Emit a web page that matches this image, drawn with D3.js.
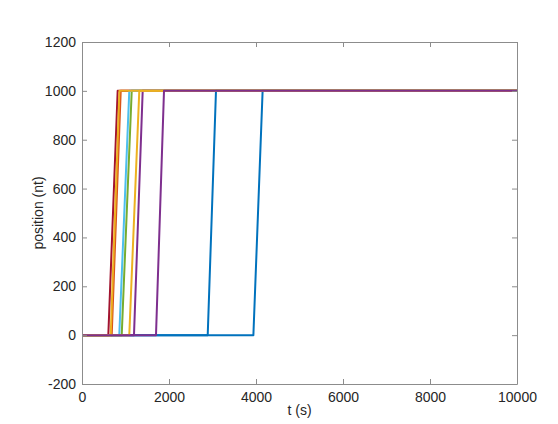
<!DOCTYPE html>
<html>
<head>
<meta charset="utf-8">
<script src="https://cdn.jsdelivr.net/npm/d3@7"></script>
<style>
  body { margin: 0; background: #fff; }
  text { font-family: "Liberation Sans", Helvetica, Arial, sans-serif; }
</style>
</head>
<body>
<svg id="chart"></svg>
<script>
var viewWidth = 558;
var viewHeight = 424;

// ramp start / end times (s); drawn in this order
var startTimes = [3940, 2890, 683, 605, 913, 857, 1195, 1087, 660, 1701];
var endTimes   = [4152, 3080, 890, 820, 1143, 1087, 1395, 1317, 860, 1885];
var lineColors = ["#0072BD", "#0072BD", "#D95319", "#A2142F", "#77AC30", "#4DBEEE", "#7E2F8E", "#EDB120", "#EDB120", "#7E2F8E"];
var lowValue = 0;
var highValue = 1000;
var tEnd = 10000;

var xTicks = [0, 2000, 4000, 6000, 8000, 10000];
var yTicks = [-200, 0, 200, 400, 600, 800, 1000, 1200];

var margin = {top: 42, right: 41, bottom: 40, left: 82};
var width = viewWidth - margin.left - margin.right;
var height = viewHeight - margin.top - margin.bottom;

var svg = d3.select("#chart")
    .attr("width", viewWidth)
    .attr("height", viewHeight)
  .append("g")
    .attr("transform", "translate(" + margin.left + "," + margin.top + ")");

var x = d3.scaleLinear().domain([0, 10000]).range([0, width]);
var y = d3.scaleLinear().domain([-200, 1200]).range([height, 0]);

var series = startTimes.map(function(s, i) {
  return {
    color: lineColors[i],
    points: [[0, lowValue], [s, lowValue], [endTimes[i], highValue], [tEnd, highValue]]
  };
});

var line = d3.line()
  .x(function(d) { return x(d[0]); })
  .y(function(d) { return y(d[1]); });

svg.append("defs").append("clipPath").attr("id", "clip")
  .append("rect").attr("width", width).attr("height", height);

svg.append("g").attr("clip-path", "url(#clip)")
  .selectAll(".series")
  .data(series)
  .enter().append("path")
    .attr("class", "series")
    .attr("d", function(d) { return line(d.points); })
    .attr("fill", "none")
    .attr("stroke", function(d) { return d.color; })
    .attr("stroke-width", 2)
    .attr("stroke-linejoin", "round");

var axisColor = "#8c8c8c";
var tickLen = 5;
var fmt = function(d) { return String(d); };   // plain hyphen minus like the original

function styleAxis(g) {
  g.select(".domain").attr("stroke", axisColor);
  g.selectAll(".tick line").attr("stroke", axisColor);
  g.selectAll(".tick text")
    .attr("fill", "#262626")
    .style("font-size", "14px");
}

svg.append("g")
    .attr("transform", "translate(0," + height + ")")
    .call(d3.axisBottom(x).tickValues(xTicks).tickSizeInner(-tickLen).tickSizeOuter(0).tickPadding(8).tickFormat(fmt))
    .call(styleAxis);

svg.append("g")
    .call(d3.axisTop(x).tickValues(xTicks).tickSizeInner(-tickLen).tickSizeOuter(0).tickFormat(""))
    .call(styleAxis);

svg.append("g")
    .call(d3.axisLeft(y).tickValues(yTicks).tickSizeInner(-tickLen).tickSizeOuter(0).tickPadding(6).tickFormat(fmt))
    .call(styleAxis);

svg.append("g")
    .attr("transform", "translate(" + width + ",0)")
    .call(d3.axisRight(y).tickValues(yTicks).tickSizeInner(-tickLen).tickSizeOuter(0).tickFormat(""))
    .call(styleAxis);

svg.append("text")
    .attr("x", width / 2)
    .attr("y", height + 31)
    .attr("text-anchor", "middle")
    .attr("fill", "#262626")
    .style("font-size", "14px")
    .text("t (s)");

svg.append("text")
    .attr("transform", "translate(" + (-39) + "," + (height / 2) + ") rotate(-90)")
    .attr("text-anchor", "middle")
    .attr("fill", "#262626")
    .style("font-size", "14px")
    .text("position (nt)");
</script>
</body>
</html>
